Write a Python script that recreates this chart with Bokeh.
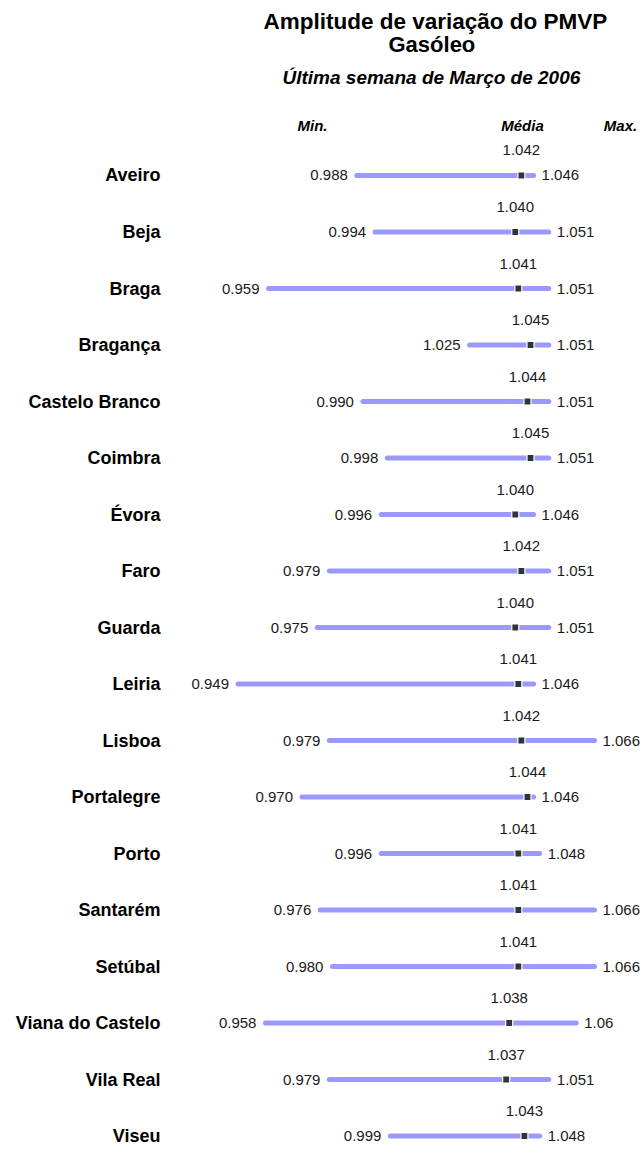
from bokeh.plotting import figure
from bokeh.models import ColumnDataSource, Range1d, LinearAxis, FixedTicker, Title
from bokeh.core.properties import value
from bokeh.embed import file_html
from bokeh.resources import INLINE

categories = ["Aveiro", "Beja", "Braga", "Bragança", "Castelo Branco", "Coimbra",
              "Évora", "Faro", "Guarda", "Leiria", "Lisboa", "Portalegre", "Porto",
              "Santarém", "Setúbal", "Viana do Castelo", "Vila Real", "Viseu"]
mins = [0.988, 0.994, 0.959, 1.025, 0.990, 0.998, 0.996, 0.979, 0.975, 0.949,
        0.979, 0.970, 0.996, 0.976, 0.980, 0.958, 0.979, 0.999]
means = [1.042, 1.040, 1.041, 1.045, 1.044, 1.045, 1.040, 1.042, 1.040, 1.041,
         1.042, 1.044, 1.041, 1.041, 1.041, 1.038, 1.037, 1.043]
maxs = [1.046, 1.051, 1.051, 1.051, 1.051, 1.051, 1.046, 1.051, 1.051, 1.046,
        1.066, 1.046, 1.048, 1.066, 1.066, 1.060, 1.051, 1.048]
headers = ["Min.", "Média", "Max."]
header_x = [0.97345, 1.04237, 1.07453]

FONT = "Liberation Sans"
idx = list(range(len(categories)))
max_labels = [f"{v:.3f}" for v in maxs]
max_labels[15] = "1.06"

src = ColumnDataSource(dict(
    y=idx, mn=mins, me=means, mx=maxs,
    mn_l=[f"{v:.3f}" for v in mins],
    me_l=[f"{v:.3f}" for v in means],
    mx_l=max_labels,
))

p = figure(width=642, height=1158, output_backend="svg", toolbar_location=None,
           x_axis_type=None, y_axis_type=None, title=None,
           x_range=Range1d(0.92619, 1.08175), y_range=Range1d(17.398, -1.3274),
           min_border_left=168, min_border_right=0, min_border_top=100,
           min_border_bottom=0, outline_line_color=None,
           background_fill_color="white", border_fill_color="white")

for txt, size, style, off, so in [
        ("Última semana de Março de 2006", "19px", "bold italic", 114, 25),
        ("Gasóleo", "22px", "bold", 220, -9),
        ("Amplitude de variação do PMVP", "22.5px", "bold", 95, 2)]:
    p.add_layout(Title(text=txt, align="left", offset=off, text_font=FONT,
                       text_font_size=size, text_font_style=style,
                       text_color="black", standoff=so, text_line_height=0.95),
                 "above")

yaxis = LinearAxis(ticker=FixedTicker(ticks=idx),
                   major_label_overrides={i: c for i, c in enumerate(categories)},
                   major_label_text_font=FONT, major_label_text_font_size="18px",
                   major_label_text_font_style="bold", major_label_text_color="black",
                   major_label_standoff=2, axis_line_color=None,
                   major_tick_line_color=None, minor_tick_line_color=None)
p.add_layout(yaxis, "left")

p.segment(x0="mn", x1="mx", y0="y", y1="y", source=src, line_color="#9999ff",
          line_width=5, line_cap="round")
p.scatter(x="me", y="y", source=src, marker="square", size=7,
          fill_color="#333333", line_color="white", line_width=1.2)

num_style = dict(source=src, text_font=value(FONT), text_font_size="15px",
                 text_color="#1a1a1a", text_baseline="middle")
p.text(x="mn", y="y", text="mn_l", text_align="right", x_offset=-9, **num_style)
p.text(x="mx", y="y", text="mx_l", text_align="left", x_offset=8, **num_style)
p.text(x="me", y="y", text="me_l", text_align="center", y_offset=-25, **num_style)

hsrc = ColumnDataSource(dict(x=header_x, y=[-0.885] * 3, t=headers))
p.text(x="x", y="y", text="t", source=hsrc, text_align="center",
       text_baseline="middle", text_font=value(FONT), text_font_size="15px",
       text_font_style="bold italic", text_color="black")

open("out.html", "w").write(file_html(p, INLINE))
